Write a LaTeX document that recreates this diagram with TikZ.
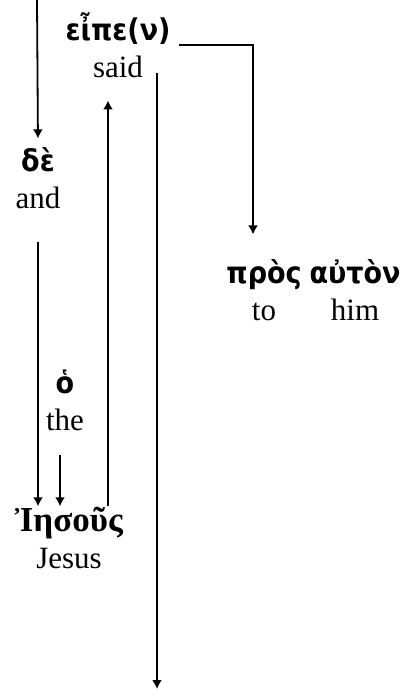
\documentclass[tikz,border=0pt]{standalone}
\usepackage{fontspec}
\setmainfont{Liberation Serif}
\IfFontExistsTF{DejaVu Sans Condensed}
  {\newfontfamily\grk{DejaVu Sans Condensed}}
  {\newfontfamily\grk{DejaVu Sans}}
\usetikzlibrary{arrows.meta,calc}
\tikzset{>={Latex[length=4.5pt,width=5pt]}}
\tikzset{word/.style={align=center,inner sep=0pt,font=\fontsize{15.5}{18.5}\selectfont}}
\newcommand{\gr}[1]{{\grk\bfseries\fontsize{15}{18.5}\selectfont #1}}

\begin{document}
\begin{tikzpicture}[x=0.5pt,y=-0.5pt,line width=0.9pt]
  \useasboundingbox (0,0) rectangle (404,691);
  % Words
  \node[word] (eipe) at (118,45) {\gr{εἶπε(ν)}\\ said};
  \node[word] (de) at (38,178) {\gr{δὲ}\\ and};
  \node[word] (ho) at (65,400) {\gr{ὁ}\\ the};
  \node[word] (iesous) at (69,538) {{\bfseries\fontsize{17.5}{18.5}\selectfont Ἰησοῦς}\\ Jesus};
  \node[word] (pros) at (264,290) {\gr{πρὸς}\\ to};
  \node[word] (auton) at (355,290) {\gr{αὐτὸν}\\ him};
  \coordinate (top) at (37,0);
  \coordinate (bot) at (157,689);
  % Links
  \draw[->,shorten >=4pt] (top) -- (de.north);
  \draw[->,shorten <=16pt] (de.south) -- (de.south |- iesous.north);
  \draw[->,shorten <=12pt] ([xshift=-2.5pt]ho.south) -- ([xshift=-2.5pt]ho.south |- iesous.north);
  \draw[->,shorten >=11pt] ([xshift=19.5pt]iesous.north) -- ([xshift=19.5pt]iesous.north |- eipe.south);
  \draw[->] ([yshift=2.5pt]eipe.south -| bot) -- (bot);
  \draw[->,shorten <=4pt,shorten >=12pt] (eipe.east) -| ([xshift=-5.5pt]pros.north);
\end{tikzpicture}
\end{document}
